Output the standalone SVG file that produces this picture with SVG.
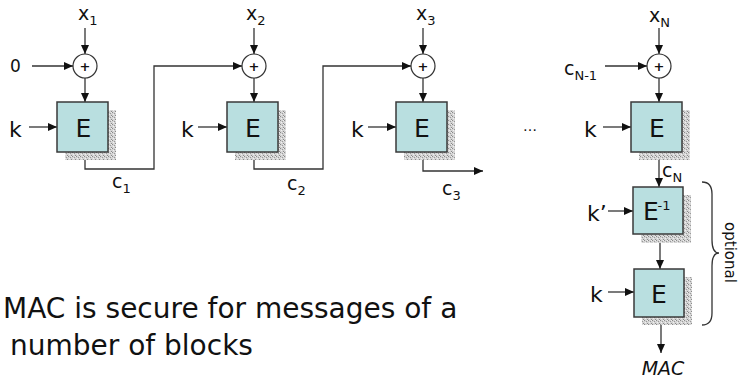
<svg xmlns="http://www.w3.org/2000/svg" width="738" height="378" viewBox="0 0 738 378">
<style>
text{font-family:"DejaVu Sans","Liberation Sans",sans-serif;fill:#111}
.ln{fill:none;stroke:#333;stroke-width:1.3}
.arr{marker-end:url(#ah)}
.box{fill:#b9dfe0;stroke:#3a3a3a;stroke-width:1.5}
.sh{fill:url(#stip)}
.xor{fill:#fff;stroke:#333;stroke-width:1.2}
.plus{font-size:13px;font-weight:bold;text-anchor:middle}
.E{font-size:25px;text-anchor:middle}
.k{font-size:22px}
.lab{font-size:19px}
.sub{font-size:13px}
</style>
<defs>
<marker id="ah" markerWidth="9" markerHeight="8" refX="9" refY="4" orient="auto" markerUnits="userSpaceOnUse">
<path d="M0,0 L9,4 L0,8 Z" fill="#111"/>
</marker>
<pattern id="stip" width="4" height="4" patternUnits="userSpaceOnUse">
<rect width="4" height="4" fill="#d4d4d4"/>
<rect x="0" y="0" width="1" height="1" fill="#8a8a8a"/>
<rect x="2" y="1" width="1" height="1" fill="#9a9a9a"/>
<rect x="1" y="2" width="1" height="1" fill="#f0f0f0"/>
<rect x="3" y="3" width="1" height="1" fill="#8a8a8a"/>
<rect x="3" y="0" width="1" height="1" fill="#efefef"/>
</pattern>
</defs>

<g id="connectors">
<line class="ln arr" x1="85" y1="28" x2="85" y2="54"/>
<line class="ln arr" x1="32" y1="66" x2="73" y2="66"/>
<line class="ln arr" x1="85" y1="78" x2="85" y2="102"/>
<line class="ln arr" x1="29" y1="127" x2="57" y2="127"/>
<polyline class="ln arr" points="85,152 85,169 154,169 154,66 242,66"/>
<line class="ln arr" x1="254" y1="28" x2="254" y2="54"/>
<line class="ln arr" x1="254" y1="78" x2="254" y2="102"/>
<line class="ln arr" x1="198" y1="127" x2="227" y2="127"/>
<polyline class="ln arr" points="254,152 254,169 323,169 323,66 411,66"/>
<line class="ln arr" x1="423" y1="28" x2="423" y2="54"/>
<line class="ln arr" x1="423" y1="78" x2="423" y2="102"/>
<line class="ln arr" x1="368" y1="127" x2="396" y2="127"/>
<polyline class="ln arr" points="423,152 423,171 483,171"/>
<line class="ln arr" x1="659" y1="28" x2="659" y2="54"/>
<line class="ln arr" x1="605" y1="66" x2="647" y2="66"/>
<line class="ln arr" x1="659" y1="78" x2="659" y2="102"/>
<line class="ln arr" x1="603" y1="127" x2="631" y2="127"/>
<line class="ln arr" x1="659" y1="152" x2="659" y2="187"/>
<line class="ln arr" x1="608" y1="211" x2="633" y2="211"/>
<line class="ln arr" x1="660" y1="234" x2="660" y2="269"/>
<line class="ln arr" x1="608" y1="292" x2="634" y2="292"/>
<line class="ln arr" x1="661" y1="317" x2="661" y2="353"/>
</g>

<g id="xor1"><circle class="xor" cx="85" cy="66" r="12"/><text class="plus" x="85" y="71">+</text></g>
<g id="xor2"><circle class="xor" cx="254" cy="66" r="12"/><text class="plus" x="254" y="71">+</text></g>
<g id="xor3"><circle class="xor" cx="423" cy="66" r="12"/><text class="plus" x="423" y="71">+</text></g>
<g id="xorN"><circle class="xor" cx="659" cy="66" r="12"/><text class="plus" x="659" y="71">+</text></g>

<g id="E1"><rect class="sh" x="65" y="110" width="51" height="50"/><rect class="box" x="57" y="102" width="51" height="50"/><text class="E" x="83.5" y="137">E</text></g>
<g id="E2"><rect class="sh" x="235" y="110" width="51" height="50"/><rect class="box" x="227" y="102" width="51" height="50"/><text class="E" x="253" y="137">E</text></g>
<g id="E3"><rect class="sh" x="404" y="110" width="51" height="50"/><rect class="box" x="396" y="102" width="51" height="50"/><text class="E" x="422" y="137">E</text></g>
<g id="EN"><rect class="sh" x="639" y="110" width="51" height="50"/><rect class="box" x="631" y="102" width="51" height="50"/><text class="E" x="657" y="137">E</text></g>
<g id="Einv"><rect class="sh" x="641" y="195" width="50" height="48"/><rect class="box" x="633" y="187" width="50" height="47"/><text x="651" y="220" style="font-size:25px;text-anchor:middle">E</text><text x="664" y="210" style="font-size:13px;text-anchor:middle">-1</text></g>
<g id="Efinal"><rect class="sh" x="642" y="277" width="50" height="48"/><rect class="box" x="634" y="269" width="50" height="48"/><text class="E" x="659" y="303">E</text></g>

<g id="labels">
<text class="lab" x="78" y="20">x<tspan class="sub" dy="5">1</tspan></text>
<text class="lab" x="246" y="20">x<tspan class="sub" dy="5">2</tspan></text>
<text class="lab" x="416" y="20">x<tspan class="sub" dy="5">3</tspan></text>
<text class="lab" x="649" y="22">x<tspan class="sub" dy="5">N</tspan></text>
<text x="10" y="72" style="font-size:17px">0</text>
<text class="k" x="9" y="137">k</text>
<text class="k" x="181" y="137">k</text>
<text class="k" x="351" y="137">k</text>
<text class="k" x="584" y="137">k</text>
<text class="k" x="587" y="221">k’</text>
<text class="k" x="590" y="302">k</text>
<text class="lab" x="564" y="75">c<tspan class="sub" dy="5">N-1</tspan></text>
<text class="lab" x="112" y="188">c<tspan class="sub" dy="5">1</tspan></text>
<text class="lab" x="287" y="190">c<tspan class="sub" dy="5">2</tspan></text>
<text class="lab" x="442" y="195">c<tspan class="sub" dy="5">3</tspan></text>
<text class="lab" x="662" y="177">c<tspan class="sub" dy="5">N</tspan></text>
<text x="530" y="131" style="font-size:14px;text-anchor:middle">…</text>
<text x="663" y="375" style="font-size:19px;font-style:italic;text-anchor:middle">MAC</text>
</g>

<g id="brace">
<path class="ln" d="M702,182 Q712,182 712,194 L712,240 Q712,253 719,253 Q712,253 712,266 L712,313 Q712,325 702,325"/>
<text transform="translate(725,252.5) rotate(90)" style="font-size:15px;text-anchor:middle">optional</text>
</g>

<g id="caption">
<text x="3" y="318" style="font-size:28px">MAC is secure for messages of a</text>
<text x="10" y="355" style="font-size:28px">number of blocks</text>
</g>
</svg>
